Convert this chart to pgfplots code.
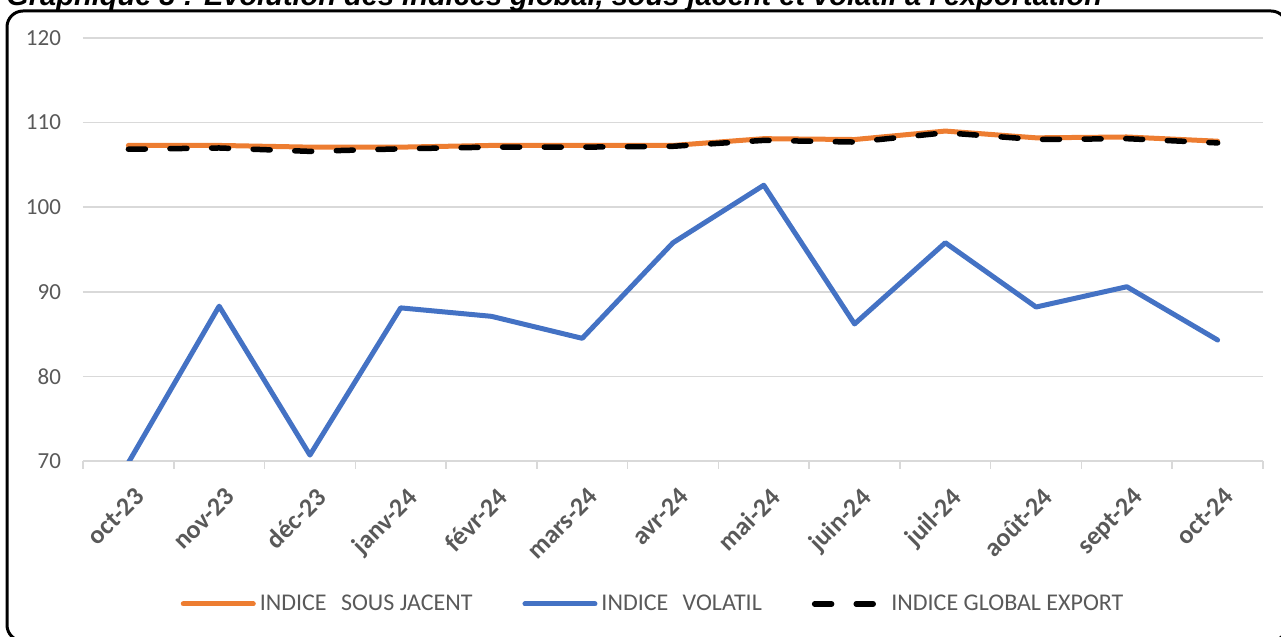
\documentclass[border=0pt]{standalone}
\usepackage{pgfplots}
\pgfplotsset{compat=1.18}
\usepackage{fontspec}
\setmainfont{Carlito}
\newfontfamily\titlefont{Liberation Sans}
\definecolor{gridc}{HTML}{D9D9D9}
\definecolor{txt}{HTML}{595959}
\definecolor{orng}{HTML}{ED7D31}
\definecolor{blu}{HTML}{4472C4}

\pgfplotstableread{
x sj vol glob
0  107.3 69.8  106.85
1  107.3 88.3  107.0
2  107.1 70.7  106.6
3  107.1 88.1  106.9
4  107.3 87.1  107.1
5  107.3 84.5  107.1
6  107.3 95.8  107.2
7  108.1 102.6 107.9
8  108.0 86.2  107.7
9  109.0 95.8  108.8
10 108.2 88.2  108.0
11 108.3 90.6  108.1
12 107.8 84.3  107.6
}\datatable

\begin{document}
\begin{tikzpicture}
\useasboundingbox (0,0) rectangle (640.5pt,318.5pt);
\node[anchor=base west, inner sep=0pt, font=\titlefont\bfseries\itshape\fontsize{14.5pt}{17pt}\selectfont] at (3pt,315.8pt) {Graphique 3 : Evolution des indices global, sous jacent et volatil à l'exportation};
\draw[line width=1.5pt, rounded corners=8pt] (3.5pt,313pt) rectangle (643.5pt,-2pt);
\begin{axis}[
  at={(41.5pt,88pt)}, anchor=south west,
  width=590pt, height=211.5pt, scale only axis,
  xmin=-0.5, xmax=12.5, ymin=70, ymax=120,
  axis x line*=bottom, axis y line*=left,
  x axis line style={draw=gridc, line width=0.75pt},
  y axis line style={draw=none},
  xtick={0,...,12},
  xticklabels={oct-23,nov-23,déc-23,janv-24,févr-24,mars-24,avr-24,mai-24,juin-24,juil-24,août-24,sept-24,oct-24},
  major tick length=0pt,
  extra x ticks={-0.5,0.5,1.5,2.5,3.5,4.5,5.5,6.5,7.5,8.5,9.5,10.5,11.5,12.5},
  extra x tick labels={},
  extra x tick style={major tick length=4pt, tick align=outside, grid=none},
  xtick style={draw=gridc, line width=0.75pt},
  ytick={70,80,...,120},
  ytick style={draw=none},
  ymajorgrids,
  grid style={draw=gridc, line width=0.75pt},
  /pgf/number format/assume math mode=true,
  yticklabel style={font=\fontsize{11.5pt}{13pt}\selectfont, text=txt, xshift=-7.5pt},
  xticklabel style={yshift=-12.5pt, xshift=2.5pt, rotate=45, anchor=north east, inner sep=0pt, font=\bfseries\fontsize{13pt}{15pt}\selectfont, text=txt},
  legend style={at={(0.484,-0.338)}, anchor=center, draw=none, fill=none,
    legend columns=3, font=\fontsize{12pt}{14pt}\selectfont, text=txt,
    /tikz/every even column/.append style={column sep=23pt}},
  legend cell align=left,
  legend image code/.code={\draw[#1] (0pt,0pt) -- (35pt,0pt);},
  every axis plot/.append style={line cap=round, line join=round},
]
\addplot[orng, line width=2.5pt] table[x=x, y=sj] {\datatable};
\addlegendentry{INDICE\hspace{0.6em}SOUS JACENT}
\addplot[blu, line width=2.5pt] table[x=x, y=vol] {\datatable};
\addlegendentry{INDICE\hspace{0.6em}VOLATIL}
\addplot[black, line width=2.75pt, dash pattern=on 8.5pt off 12.3pt] table[x=x, y=glob] {\datatable};
\addlegendentry{INDICE GLOBAL EXPORT}
\end{axis}
\end{tikzpicture}
\end{document}
